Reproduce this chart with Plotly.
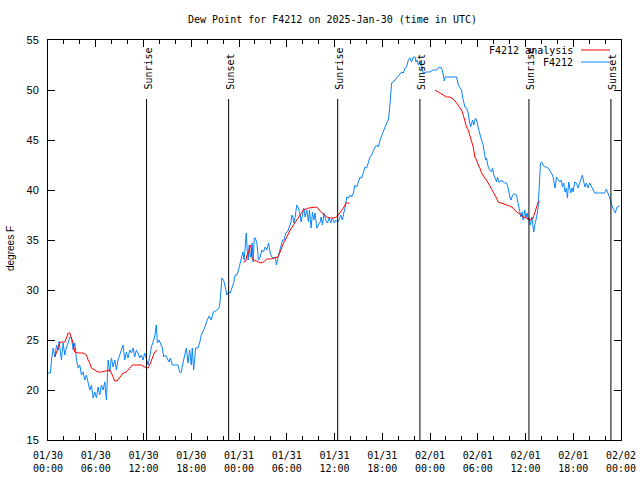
import pandas as pd
import plotly.graph_objects as go

# ---- data: hours since 2025-01-30 00:00 UTC, dew point in degrees F ----
obs_hours = [0.0, 0.31, 0.44, 0.65, 0.86, 1.07, 1.28, 1.40, 1.57, 1.69, 1.90, 2.11, 2.32, 2.53, 2.74, 2.95,
             3.16, 3.37, 3.58, 3.79, 3.99, 4.20, 4.41, 4.62, 4.83, 5.04, 5.25, 5.46, 5.67, 5.88, 6.09, 6.29,
             6.50, 6.71, 6.92, 7.13, 7.34, 7.55, 7.76, 7.97, 8.18, 8.39, 8.59, 8.80, 9.01, 9.22, 9.43, 9.64,
             9.85, 10.06, 10.27, 10.48, 10.69, 10.89, 11.10, 11.31, 11.52, 11.73, 11.94, 12.15, 12.36, 12.57,
             12.78, 12.99, 13.20, 13.40, 13.61, 13.74, 13.95, 14.16, 14.37, 14.53, 14.78, 14.95, 15.20, 15.37,
             15.62, 15.91, 16.33, 16.54, 16.71, 16.96, 17.17, 17.38, 17.59, 17.80, 18.00, 18.13, 18.30, 18.55,
             18.84, 19.05, 19.26, 19.47, 19.68, 19.80, 20.00, 20.26, 20.51, 20.77, 21.02, 21.27, 21.52,
             21.64, 21.85, 22.06, 22.27, 22.48, 22.69, 22.90, 23.11, 23.32, 23.53, 23.73, 23.94, 24.15, 24.36,
             24.49, 24.65, 24.78, 24.91, 25.03, 25.16, 25.28, 25.41, 25.53, 25.66, 25.78, 25.91, 26.04, 26.24,
             26.45, 26.66, 26.87, 27.08, 27.29, 27.50, 27.71, 27.92, 28.13, 28.34, 28.54, 28.71, 28.88, 29.05,
             29.26, 29.47, 29.67, 29.88, 30.09, 30.30, 30.51, 30.64, 30.76, 30.89, 31.05, 31.26, 31.47, 31.68,
             31.81, 31.97, 32.14, 32.31, 32.52, 32.73, 32.85, 33.06, 33.23, 33.40, 33.56, 33.77, 33.98, 34.19,
             34.32, 34.48, 34.69, 34.90, 35.11, 35.32, 35.53, 35.74, 35.99, 36.16, 36.41, 36.57, 36.78, 36.99,
             37.16, 37.33, 37.54, 37.75, 37.95, 38.16, 38.37, 38.58, 38.79, 39.00, 39.21, 39.42, 39.63, 39.84,
             40.05, 40.26, 40.46, 40.67, 40.88, 41.09, 41.30, 41.51, 41.72, 41.93, 42.14, 42.35, 42.56, 42.76,
             42.89, 43.06, 43.18, 43.39, 43.60, 43.81, 44.02, 44.23, 44.44, 44.65, 44.86, 45.07, 45.27, 45.48,
             45.69, 45.90, 46.11, 46.24, 46.40, 46.53, 46.74, 46.95, 47.16, 47.57, 47.99, 48.41, 48.83, 49.16,
             49.46, 49.67, 49.79, 49.92, 50.29, 50.92, 51.34, 51.55, 51.76, 51.97, 52.09, 52.26, 52.38, 52.59,
             52.80, 52.93, 53.10, 53.35, 53.51, 53.72, 53.93, 54.06, 54.27, 54.48, 54.68, 54.81, 54.98, 55.10,
             55.31, 55.52, 55.73, 55.86, 56.02, 56.19, 56.36, 56.48, 56.65, 56.78, 56.99, 57.19, 57.40, 57.61,
             57.82, 58.03, 58.20, 58.37, 58.53, 58.87, 59.08, 59.29, 59.41, 59.58, 59.70, 59.91, 60.04, 60.21,
             60.33, 60.46, 60.62, 60.79, 60.96, 61.04, 61.21, 61.38, 61.59, 61.71, 61.88, 62.05, 62.21, 62.42,
             62.63, 62.84, 63.05, 63.26, 63.47, 63.59, 63.72, 63.89, 64.10, 64.30, 64.51, 64.64, 64.81, 64.97,
             65.14, 65.27, 65.43, 65.56, 65.68, 65.85, 65.98, 66.19, 66.40, 66.60, 66.81, 67.02, 67.15, 67.32,
             67.48, 67.65, 67.86, 68.07, 68.28, 68.49, 68.69, 69.32, 69.95, 70.16, 70.37, 70.58, 70.74, 70.91,
             71.12, 71.29, 71.50, 71.83]
obs_dewpt = [21.7, 21.7, 23.0, 24.2, 23.3, 24.5, 24.0, 24.9, 23.7, 23.0, 24.7, 23.5, 24.3, 24.7, 25.3, 25.2,
             24.0, 24.7, 23.0, 22.2, 22.5, 21.5, 21.8, 21.0, 21.5, 20.8, 20.0, 20.5, 19.2, 19.8, 19.2, 20.3,
             19.5, 20.5, 20.0, 20.8, 19.0, 23.0, 21.8, 23.2, 22.3, 23.0, 22.0, 23.0, 23.5, 24.0, 24.5, 23.0,
             23.8, 23.2, 24.0, 23.7, 24.2, 23.3, 24.0, 23.7, 23.2, 23.5, 23.0, 23.7, 23.0, 22.5,
             23.3, 24.3, 24.8, 25.3, 26.5, 24.7, 25.0, 24.5, 24.2, 23.3, 23.5, 23.2, 22.8, 23.2,
             22.5, 22.5, 22.5, 21.8, 21.7, 22.7, 23.5, 24.2, 22.7, 24.0, 22.5, 24.2, 22.0, 24.2,
             24.2, 24.7, 25.5, 25.8, 26.2, 26.5, 27.0, 27.4, 27.0, 27.8, 27.9, 28.0, 28.3,
             29.0, 31.2, 31.0, 30.3, 29.5, 29.8, 29.7, 30.2, 30.7, 31.5, 31.5, 32.0, 32.8, 33.3,
             33.8, 33.0, 34.7, 35.7, 34.0, 33.0, 34.5, 33.3, 33.7, 34.7, 32.8, 35.2, 35.2, 34.7,
             33.0, 33.3, 34.0, 33.8, 34.3, 34.0, 34.7, 33.7, 33.3, 33.2, 33.3, 32.5, 33.2, 33.8,
             34.3, 35.0, 35.0, 35.7, 35.8, 36.3, 36.7, 37.5, 37.3, 36.7, 37.3, 38.5, 38.2, 37.5,
             36.8, 37.5, 38.2, 37.3, 38.0, 36.8, 38.0, 36.2, 37.8, 37.0, 37.7, 36.2, 36.5, 36.8,
             37.3, 36.5, 37.7, 37.0, 36.7, 37.2, 36.7, 37.2, 36.7, 37.0, 36.8, 37.0, 37.5, 37.0,
             37.7, 38.2, 39.3, 39.2, 39.5, 39.3, 39.7, 40.5, 40.3, 40.8, 41.3, 41.2, 41.7, 42.3,
             42.2, 42.7, 43.3, 43.5, 44.0, 44.3, 44.5, 44.3, 45.0, 45.5, 45.8, 46.3, 46.7, 47.0,
             47.8, 49.7, 50.7, 50.8, 51.0, 51.3, 51.5, 51.7, 51.8, 51.7, 52.2, 52.3, 53.0, 53.2,
             52.8, 53.3, 53.3, 52.8, 53.0, 52.5, 52.8, 52.2, 51.7, 51.8, 51.8, 52.0, 52.0, 52.3,
             52.2, 51.5, 50.9, 51.3, 51.3, 51.3, 51.3, 50.5, 50.3, 50.0, 49.3, 48.8, 48.3, 48.2,
             47.7, 47.0, 46.3, 47.0, 46.5, 47.2, 46.8, 46.2, 45.5, 45.0, 44.5, 43.7, 43.0, 43.2,
             42.3, 42.0, 41.8, 42.2, 41.5, 41.2, 40.8, 41.3, 40.8, 40.8, 41.0, 40.8, 40.7, 40.7,
             40.2, 39.3, 39.0, 39.5, 39.6, 39.5, 38.7, 38.0, 37.3, 37.8, 37.0, 38.0, 37.2, 37.7,
             37.0, 37.2, 36.5, 37.3, 36.3, 35.8, 36.7, 37.2, 38.3, 40.0, 42.7, 42.8, 42.5, 42.3,
             42.3, 42.2, 42.0, 41.7, 41.3, 40.7, 40.2, 41.3, 41.0, 40.8, 41.0, 40.3, 40.7, 39.8,
             40.2, 39.2, 40.8, 40.0, 39.7, 40.2, 39.8, 40.8, 40.7, 40.2, 40.8, 41.3, 41.5, 40.8,
             40.3, 40.7, 40.2, 40.7, 40.3, 40.0, 39.7, 39.7, 39.7, 40.1, 39.7, 39.2, 38.8, 38.3,
             38.0, 37.7, 38.3, 38.4]

ana_hours = [0.86, 1.48, 1.69, 2.11, 2.32, 2.53, 2.74, 2.95, 3.16, 3.37, 3.78, 4.41, 4.83, 5.04, 5.25, 5.46,
             5.88, 6.29, 6.71, 7.13, 7.76, 7.97, 8.18, 8.39, 8.68, 9.01, 9.43, 9.85, 10.27, 10.60, 11.73,
             12.15, 12.57, 12.78, 13.11, 13.40, 13.74, None,
             24.57, 24.86, 24.99, 25.20, 25.32, 25.49, 25.62, 25.83, 26.24, 26.66, 27.08, 27.50, 27.92, 28.54,
             28.88, 29.17, 29.59, 30.01, 30.43, 30.84, 31.26, 31.68, 32.10, 32.73, 33.35, 33.77, 34.19, 34.61,
             35.03, 35.45, 35.86, 36.28, 36.70, 37.12, 37.45, 37.87, None,
             48.62, 49.04, 49.25, 49.67, 50.08, 50.50, 50.92, 51.34, 51.76, 51.97, 52.18, 52.38, 52.59, 52.80,
             53.01, 53.22, 53.43, 53.64, 53.85, 54.06, 54.27, 54.48, 54.68, 54.89, 55.10, 55.31, 55.52, 55.73,
             55.94, 56.15, 56.36, 56.57, 56.99, 57.61, 58.03, 58.45, 58.87, 59.29, 59.70, 60.12, 60.54, 60.96,
             61.17, 61.38, 61.59, 61.80]
ana_dewpt = [23.3, 24.7, 24.8, 24.8, 25.2, 25.7, 25.7, 25.2, 24.7, 23.8, 23.7, 23.7, 23.5, 23.0, 22.7, 22.2,
             22.0, 21.8, 21.8, 21.9, 22.0, 21.7, 21.2, 20.9, 20.9, 21.3, 21.7, 21.8, 22.2, 22.5, 22.5,
             22.3, 22.2, 22.5, 23.2, 23.8, 24.0, None,
             32.8, 32.9, 33.5, 33.7, 34.2, 34.5, 33.2, 33.0, 32.9, 32.7, 32.8, 33.1, 33.1, 33.2,
             33.3, 33.8, 34.7, 35.3, 36.0, 36.5, 37.0, 37.5, 38.0, 38.2, 38.3, 38.3, 37.9, 37.6,
             37.3, 37.2, 37.2, 37.3, 37.7, 38.2, 38.7, 38.7, None,
             50.0, 49.8, 49.7, 49.5, 49.3, 49.3, 49.1, 48.7, 48.3, 48.0, 47.5, 46.8, 46.3, 46.0,
             45.5, 45.0, 44.3, 43.3, 43.0, 42.5, 42.2, 41.7, 41.4, 41.2, 41.0, 40.7, 40.4, 40.2,
             39.8, 39.5, 39.2, 38.8, 38.7, 38.5, 38.4, 38.2, 37.8, 37.6, 37.3, 37.2, 37.0, 37.2,
             37.7, 38.3, 38.8, 38.8]

sun_events = ["Sunrise", "Sunset", "Sunrise", "Sunset", "Sunrise", "Sunset"]
sun_times = ["2025-01-30 12:23", "2025-01-30 22:42", "2025-01-31 12:24",
             "2025-01-31 22:44", "2025-02-01 12:26", "2025-02-01 22:44"]

tick_times = pd.date_range("2025-01-30 00:00", "2025-02-02 00:00", freq="6h")
tick_labels = [t.strftime("%m/%d<br>%H:%M") for t in tick_times]

BASE = pd.Timestamp("2025-01-30 00:00")
def to_time(hours):
    return [None if h is None else BASE + pd.Timedelta(hours=h) for h in hours]

MONO = "DejaVu Sans Mono"
SANS = "Liberation Sans"
BLUE = "#0a84ff"
RED = "#ff0000"

fig = go.Figure()
fig.add_trace(go.Scatter(x=to_time(obs_hours), y=obs_dewpt, mode="lines", name="F4212",
                         line=dict(color=BLUE, width=1), connectgaps=False))
fig.add_trace(go.Scatter(x=to_time(ana_hours), y=ana_dewpt, mode="lines", name="F4212 analysis",
                         line=dict(color=RED, width=1), connectgaps=False))

line_top = 49.1
for name, t in zip(sun_events, sun_times):
    fig.add_trace(go.Scatter(x=[t, t], y=[15, line_top], mode="lines", showlegend=False,
                             line=dict(color="black", width=1), hoverinfo="skip"))
    fig.add_annotation(x=t, y=49.8, xref="x", yref="y", text=name, textangle=-90,
                       showarrow=False, xanchor="center", yanchor="bottom", xshift=1,
                       font=dict(family=MONO, size=10, color="black"))

# manual key (gnuplot style: text right, sample line on right)
PL, PR, PT, PB = 48, 621, 40, 440
def px(xp):
    return (xp - PL) / (PR - PL)
def py(yp):
    return (PB - yp) / (PB - PT)

for label, color, ypix in [("F4212 analysis", RED, 50), ("F4212", BLUE, 62)]:
    fig.add_annotation(x=px(575), y=py(ypix), xref="paper", yref="paper", text=label,
                       showarrow=False, xanchor="right", yanchor="middle",
                       font=dict(family=MONO, size=10, color="black"))
    fig.add_shape(type="line", xref="paper", yref="paper", x0=px(581), x1=px(610),
                  y0=py(ypix), y1=py(ypix), line=dict(color=color, width=1))

fig.add_annotation(x=px(332), y=py(19), xref="paper", yref="paper",
                   text="Dew Point for F4212 on 2025-Jan-30 (time in UTC)", showarrow=False,
                   xanchor="center", yanchor="middle", font=dict(family=MONO, size=10, color="black"))
fig.add_annotation(x=px(10), y=py(249), xref="paper", yref="paper", text="degrees F",
                   textangle=-90, showarrow=False, xanchor="center", yanchor="middle",
                   font=dict(family=SANS, size=10, color="black"))

fig.update_layout(
    template="none",
    width=640, height=480, showlegend=False,
    margin=dict(l=PL, r=640 - PR, t=PT, b=480 - PB, pad=0, autoexpand=False),
    paper_bgcolor="white", plot_bgcolor="white",
    xaxis=dict(type="date", range=["2025-01-30 00:00", "2025-02-02 00:00"], automargin=False,
               tickmode="array", tickvals=list(tick_times), ticktext=tick_labels,
               ticks="inside", ticklen=7, tickcolor="black", showgrid=False, zeroline=False,
               showline=True, linecolor="black", linewidth=1, mirror="allticks",
               tickfont=dict(family=MONO, size=10, color="black"), ticklabelstandoff=6,
               minor=dict(dtick=2 * 3600 * 1000, ticks="inside", ticklen=4, tickcolor="black",
                          showgrid=False, tick0="2025-01-30 00:00")),
    yaxis=dict(range=[15, 55], tickmode="linear", tick0=15, dtick=5, automargin=False,
               ticks="inside", ticklen=7, tickcolor="black", showgrid=False, zeroline=False,
               showline=True, linecolor="black", linewidth=1, mirror="allticks",
               tickfont=dict(family=SANS, size=11, color="black"), ticklabelstandoff=6),
)

fig.write_html("out.html", config={"displayModeBar": False},
               post_script="document.body.style.margin='0';document.body.style.padding='0';")
